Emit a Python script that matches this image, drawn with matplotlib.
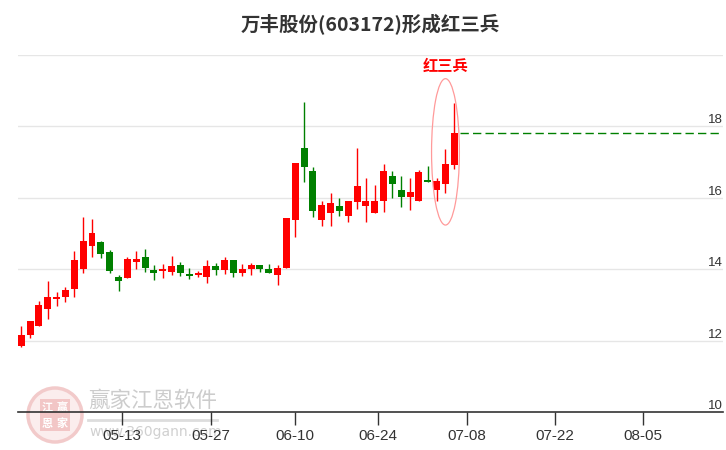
import matplotlib
matplotlib.use("Agg")
import matplotlib.pyplot as plt
from matplotlib import font_manager
from matplotlib.patches import Ellipse, Circle, Rectangle

# ---------------- data ----------------
opens = [11.86, 12.17, 12.42, 12.90, 13.17, 13.23, 13.46, 14.02, 14.66, 14.76,
         14.48, 13.79, 13.77, 14.21, 14.34, 13.98, 13.96, 13.93, 14.12, 13.85,
         13.85, 13.79, 14.09, 13.99, 14.26, 13.90, 14.01, 14.12, 14.01, 13.85,
         14.04, 15.39, 17.39, 16.75, 15.39, 15.58, 15.77, 15.50, 15.89, 15.78,
         15.58, 15.92, 16.61, 16.22, 16.03, 15.92, 16.50, 16.23, 16.39, 16.93]
highs = [12.41, 12.55, 13.11, 13.67, 13.37, 13.50, 14.51, 15.46, 15.41, 14.79,
         14.54, 13.84, 14.34, 14.51, 14.57, 14.12, 14.15, 14.37, 14.20, 14.04,
         13.95, 14.26, 14.18, 14.34, 14.26, 14.15, 14.18, 14.12, 14.15, 14.13,
         15.44, 16.97, 18.68, 16.86, 15.91, 16.13, 15.99, 15.91, 17.39, 16.55,
         16.36, 16.95, 16.75, 16.61, 16.55, 16.78, 16.89, 16.55, 17.36, 18.65]
lows = [11.83, 12.09, 12.42, 12.62, 12.98, 13.09, 13.23, 13.90, 14.35, 14.32,
        13.90, 13.40, 13.77, 14.02, 13.93, 13.71, 13.77, 13.85, 13.82, 13.74,
        13.79, 13.63, 13.85, 13.88, 13.79, 13.82, 13.85, 13.93, 13.90, 13.57,
        14.04, 14.91, 16.45, 15.47, 15.22, 15.22, 15.50, 15.33, 15.70, 15.33,
        15.58, 15.61, 16.00, 15.75, 15.67, 15.92, 16.43, 15.92, 16.14, 16.81]
closes = [12.16, 12.55, 13.00, 13.23, 13.23, 13.42, 14.26, 14.79, 15.02, 14.44,
          13.96, 13.68, 14.29, 14.29, 14.04, 13.90, 14.01, 14.10, 13.90, 13.82,
          13.90, 14.09, 13.99, 14.26, 13.90, 14.01, 14.12, 14.01, 13.90, 14.04,
          15.44, 16.97, 16.87, 15.64, 15.80, 15.86, 15.64, 15.91, 16.33, 15.91,
          15.91, 16.75, 16.39, 16.03, 16.16, 16.72, 16.43, 16.47, 16.95, 17.81]

x_tick_pos = [11.37, 21.45, 30.92, 40.32, 50.44, 60.37, 70.32]
x_tick_labels = ["05-13", "05-27", "06-10", "06-24", "07-08", "07-22", "08-05"]
y_ticks = [10, 12, 14, 16, 18]
y_grid_extra = [20]

title = "万丰股份(603172)形成红三兵"
pattern_label = "红三兵"

# ---------------- fonts ----------------
names = {f.name for f in font_manager.fontManager.ttflist}
narrow = "Liberation Sans Narrow" if "Liberation Sans Narrow" in names else "Liberation Sans"
cjk = ["Noto Sans CJK SC", "DejaVu Sans"]

RED = "#ff0000"
GREEN = "#008000"

fig = plt.figure(figsize=(7.26, 4.5), dpi=100)
W, H = 726, 450
ax_left, ax_right, ax_bottom, ax_top = 18.3, 723.3, 412.3, 54.8
ax = fig.add_axes([ax_left / W, 1 - ax_bottom / H, (ax_right - ax_left) / W, (ax_bottom - ax_top) / H])
ax.set_facecolor("none")
ax.set_zorder(2)

# watermark (behind)
wm = fig.add_axes([0, 0, 1, 1], zorder=0)
wm.set_xlim(0, W)
wm.set_ylim(H, 0)
wm.axis("off")
wm.add_patch(Circle((55, 415), 27, facecolor="#fbeded", edgecolor="#f2caca", lw=2.5))
wm.add_patch(Rectangle((40, 399), 30, 32, facecolor="#f2c6c6", edgecolor="none"))
for (cx, cy, ch) in [(47.5, 407, "江"), (62.5, 407, "赢"), (47.5, 423, "恩"), (62.5, 423, "家")]:
    wm.text(cx, cy, ch, color="white", fontsize=8, ha="center", va="center", family=cjk, fontweight="bold")
wm.text(88, 401, "赢家江恩软件", color="#cccccc", fontsize=15.5, ha="left", va="center", family=cjk)
wm.plot([88, 217], [420, 420], color="#dddddd", lw=2)
wm.text(89, 432, "www.360gann.com", color="#d0d0d0", fontsize=10, ha="left", va="center", family="DejaVu Sans")

# gridlines
for v in y_ticks[1:] + y_grid_extra:
    ax.axhline(v, color="#e6e6e6", lw=1, zorder=0)

# candles
n = len(opens)
xs = list(range(n))
for i in xs:
    o, h, l, c = opens[i], highs[i], lows[i], closes[i]
    col = RED if c >= o else GREEN
    ax.vlines(i, l, h, color=col, lw=1.0, zorder=3)
    body_h = max(abs(c - o), 0.05)
    ax.bar(i, body_h, bottom=min(o, c), width=0.79, color=col, zorder=4, linewidth=0)

ax.set_xlim(-0.34, 79.44)
ax.set_ylim(10, 20)

# last close dashed line
ax.hlines(closes[-1], n - 1 + 0.64, 79.44, colors=GREEN, linestyles=(0, (6, 3)), lw=1, zorder=3)

# ellipse around last three candles
last3 = range(n - 3, n)
cx = sum(last3) / 3.0
lo3 = min(lows[i] for i in last3)
hi3 = max(highs[i] for i in last3)
ax.add_patch(Ellipse((cx, (lo3 + hi3) / 2), width=3.15, height=(hi3 - lo3) * 1.5,
                     fill=False, edgecolor="#ff9a9a", lw=0.9, zorder=5))
ax.text(cx, 19.69, pattern_label, color=RED, fontsize=11, fontweight="bold",
        ha="center", va="center", family=cjk, zorder=6)

# axes styling
for s in ["top", "left", "right"]:
    ax.spines[s].set_visible(False)
ax.spines["bottom"].set_color("#333333")
ax.spines["bottom"].set_linewidth(1.2)
ax.set_yticks([])
ax.set_xticks(x_tick_pos)
ax.set_xticklabels(x_tick_labels, family=narrow, fontsize=11, color="#333333")
ax.tick_params(axis="x", length=9, width=1, color="#333333", pad=3)

for v in y_ticks:
    ax.text(1.0, v, str(v), transform=ax.get_yaxis_transform(), ha="right", va="bottom",
            family=narrow, fontsize=9.5, color="#333333")

fig.text((ax_left + ax_right) / 2 / W, 1 - 25 / H, title, ha="center", va="center",
         fontsize=14, fontweight="bold", color="#333333", family=cjk)

fig.savefig("out.png", dpi=100)
